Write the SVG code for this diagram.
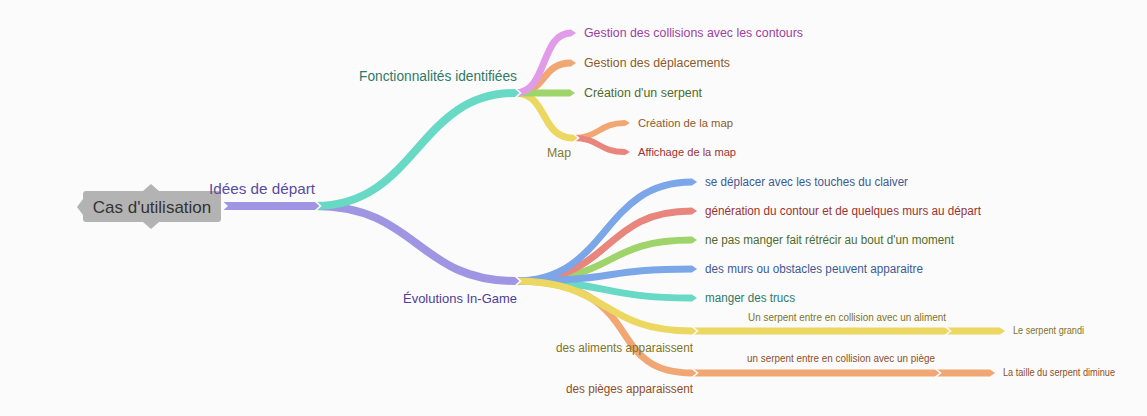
<svg xmlns="http://www.w3.org/2000/svg" width="1147" height="416" viewBox="0 0 1147 416">
<style>
text{font-family:"Liberation Sans",Arial,sans-serif}
.rb{fill:none;stroke-linecap:butt}
.w8{stroke-width:8}.w7{stroke-width:7}.w6{stroke-width:6}
.sep{fill:none;stroke:#fbfbfb;stroke-width:1.6;stroke-linejoin:miter}
.s-pu{stroke:#9f95e3}.f-pu{fill:#9f95e3}
.s-te{stroke:#68d9c4}.f-te{fill:#68d9c4}
.s-pk{stroke:#e29be9}.f-pk{fill:#e29be9}
.s-or{stroke:#f0a773}.f-or{fill:#f0a773}
.s-gr{stroke:#9fd46b}.f-gr{fill:#9fd46b}
.s-ye{stroke:#ecd860}.f-ye{fill:#ecd860}
.s-rd{stroke:#e8857d}.f-rd{fill:#e8857d}
.s-bl{stroke:#7ba6e8}.f-bl{fill:#7ba6e8}
.l14{font-size:14px}.l12{font-size:12px}.l11{font-size:11px}.l10{font-size:10px}
</style>
<rect width="1147" height="416" fill="#fbfbfb"/>
<g id="connectors">
<path class="rb w8 s-pu" d="M224 206H315"/>
<path class="rb w8 s-pu" d="M315 206C417 206 417 281 515 281"/>
<path class="rb w8 s-te" d="M315 206C417 206 417 93 515 93"/>
<path class="rb w7 s-ye" d="M515 93C548 93 540 138 573 138"/>
<path class="rb w7 s-or" d="M515 93C548 93 540 63 571 63"/>
<path class="rb w7 s-gr" d="M515 93H570"/>
<path class="rb w7 s-pk" d="M515 93C548 93 540 33 571 33"/>
<path class="rb w6 s-or" d="M573 138C600 138 598 123 625 123"/>
<path class="rb w6 s-rd" d="M573 138C600 138 598 152 625 152"/>
<path class="rb w7 s-or" d="M515 281C650 281 600 373 692 373"/>
<path class="rb w7 s-te" d="M515 281C610 281 600 298 692 298"/>
<path class="rb w7 s-gr" d="M515 281C620 281 600 240 692 240"/>
<path class="rb w7 s-rd" d="M515 281C615 281 600 211 692 211"/>
<path class="rb w7 s-bl" d="M515 281C620 281 600 269 692 269"/>
<path class="rb w7 s-bl" d="M515 281C610 281 600 182 692 182"/>
<path class="rb w7 s-ye" d="M515 281C610 281 600 331 692 331"/>
<path class="rb w7 s-ye" d="M692 331H945"/>
<path class="rb w7 s-ye" d="M945 331H1000"/>
<path class="rb w7 s-or" d="M692 373H935"/>
<path class="rb w7 s-or" d="M935 373H990"/>
<polygon points="223,201.5 228,206 223,210.5" fill="#fbfbfb"/>
<polygon class="f-pu" points="315,202 320,206 315,210"/><polyline class="sep" points="315,201 320.5,206 315,211"/>
<polygon class="f-te" points="515,89 520,93 515,97"/><polyline class="sep" points="515,88 520.5,93 515,98"/>
<polygon class="f-pu" points="515,277 520,281 515,285"/><polyline class="sep" points="515,276 520.5,281 515,286"/>
<polygon class="f-pk" points="571,29.5 576,33 571,36.5"/>
<polygon class="f-or" points="571,59.5 576,63 571,66.5"/>
<polygon class="f-gr" points="570,89.5 575,93 570,96.5"/>
<polygon class="f-ye" points="573,134.5 578,138 573,141.5"/><polyline class="sep" points="573,133.5 578.5,138 573,142.5"/>
<polygon class="f-or" points="625,120 630,123 625,126"/>
<polygon class="f-rd" points="625,149 630,152 625,155"/>
<polygon class="f-bl" points="692,178.5 697,182 692,185.5"/>
<polygon class="f-rd" points="692,207.5 697,211 692,214.5"/>
<polygon class="f-gr" points="692,236.5 697,240 692,243.5"/>
<polygon class="f-bl" points="692,265.5 697,269 692,272.5"/>
<polygon class="f-te" points="692,294.5 697,298 692,301.5"/>
<polygon class="f-ye" points="692,327.5 697,331 692,334.5"/><polyline class="sep" points="692,326.5 697.5,331 692,335.5"/>
<polygon class="f-ye" points="945,327.5 950,331 945,334.5"/><polyline class="sep" points="945,326.5 950.5,331 945,335.5"/>
<polygon class="f-ye" points="1000,327.5 1005,331 1000,334.5"/>
<polygon class="f-or" points="692,369.5 697,373 692,376.5"/><polyline class="sep" points="692,368.5 697.5,373 692,377.5"/>
<polygon class="f-or" points="935,369.5 940,373 935,376.5"/><polyline class="sep" points="935,368.5 940.5,373 935,377.5"/>
<polygon class="f-or" points="990,369.5 995,373 990,376.5"/>
</g>
<g id="n-root">
<path d="M86 191H143L151 184L159 191H218Q221 191 221 194V219Q221 222 218 222H159L151 229L143 222H86Q83 222 83 219V215L77 207L83 199V194Q83 191 86 191Z" fill="#b3b3b3"/>
<text x="152" y="213" font-size="17" fill="#333333" text-anchor="middle">Cas d'utilisation</text>
</g>
<g id="n-idees"><text x="209" y="193.5" font-size="14.5" fill="#5a4ba0" textLength="106" lengthAdjust="spacingAndGlyphs">Idées de départ</text></g>
<g id="n-fonct"><text class="l14" x="359" y="81" fill="#2f7a68" textLength="158" lengthAdjust="spacingAndGlyphs">Fonctionnalités identifiées</text></g>
<g id="n-evol"><text x="403" y="303" font-size="13.5" fill="#4d3f95" textLength="114" lengthAdjust="spacingAndGlyphs">Évolutions In-Game</text></g>
<g id="n-f1"><text class="l12" x="584" y="37" fill="#9c3fa0" textLength="219" lengthAdjust="spacingAndGlyphs">Gestion des collisions avec les contours</text></g>
<g id="n-f2"><text class="l12" x="584" y="67" fill="#8b5a2b" textLength="146" lengthAdjust="spacingAndGlyphs">Gestion des déplacements</text></g>
<g id="n-f3"><text class="l12" x="584" y="97" fill="#4f6b2a" textLength="118" lengthAdjust="spacingAndGlyphs">Création d'un serpent</text></g>
<g id="n-map"><text class="l12" x="547" y="157" fill="#857a2c" textLength="24" lengthAdjust="spacingAndGlyphs">Map</text></g>
<g id="n-m1"><text class="l11" x="638" y="127" fill="#8b5a2b" textLength="95" lengthAdjust="spacingAndGlyphs">Création de la map</text></g>
<g id="n-m2"><text class="l11" x="638" y="156" fill="#9b3333" textLength="98" lengthAdjust="spacingAndGlyphs">Affichage de la map</text></g>
<g id="n-e1"><text class="l12" x="705" y="186" fill="#3b5a94" textLength="203" lengthAdjust="spacingAndGlyphs">se déplacer avec les touches du claiver</text></g>
<g id="n-e2"><text class="l12" x="705" y="215" fill="#993333" textLength="276" lengthAdjust="spacingAndGlyphs">génération du contour et de quelques murs au départ</text></g>
<g id="n-e3"><text class="l12" x="705" y="244" fill="#4d6b2d" textLength="249" lengthAdjust="spacingAndGlyphs">ne pas manger fait rétrécir au bout d'un moment</text></g>
<g id="n-e4"><text class="l12" x="705" y="273" fill="#3b5a94" textLength="218" lengthAdjust="spacingAndGlyphs">des murs ou obstacles peuvent apparaitre</text></g>
<g id="n-e5"><text class="l12" x="705" y="302" fill="#2d7a6a" textLength="90" lengthAdjust="spacingAndGlyphs">manger des trucs</text></g>
<g id="n-e6"><text class="l12" x="556" y="351.5" fill="#7d7428" textLength="137" lengthAdjust="spacingAndGlyphs">des aliments apparaissent</text></g>
<g id="n-e7"><text class="l12" x="566" y="392.5" fill="#8c4f2a" textLength="127" lengthAdjust="spacingAndGlyphs">des pièges apparaissent</text></g>
<g id="n-e6a"><text class="l10" x="748" y="321" fill="#7d7428" textLength="198" lengthAdjust="spacingAndGlyphs">Un serpent entre en collision avec un aliment</text></g>
<g id="n-e6b"><text class="l10" x="1013" y="334" fill="#7d7428" textLength="71" lengthAdjust="spacingAndGlyphs">Le serpent grandi</text></g>
<g id="n-e7a"><text class="l10" x="747" y="362" fill="#8c4f2a" textLength="188" lengthAdjust="spacingAndGlyphs">un serpent entre en collision avec un piège</text></g>
<g id="n-e7b"><text class="l10" x="1003" y="376" fill="#8c4f2a" textLength="112" lengthAdjust="spacingAndGlyphs">La taille du serpent diminue</text></g>
</svg>
